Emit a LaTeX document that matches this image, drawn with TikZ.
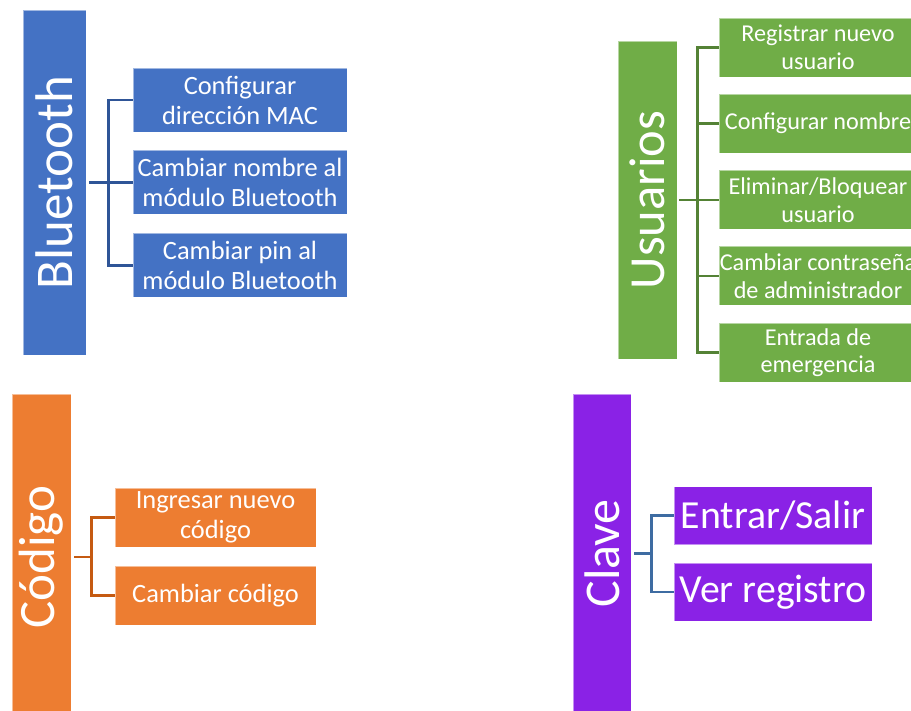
\documentclass[tikz,border=0pt]{standalone}
\usepackage{fontspec}
\setmainfont{Carlito}
\definecolor{cblue}{HTML}{4472C4}
\definecolor{lblue}{HTML}{2F5597}
\definecolor{cgreen}{HTML}{70AD47}
\definecolor{lgreen}{HTML}{548235}
\definecolor{corange}{HTML}{ED7D31}
\definecolor{lorange}{HTML}{C55A11}
\definecolor{cpurple}{HTML}{8A22E6}
\definecolor{lpurple}{HTML}{3E6CA2}
\begin{document}
\begin{tikzpicture}[x=1pt,y=-1pt,
  bx/.style={rectangle, inner sep=0pt, text=white, align=center, draw=white, draw opacity=0.5, line width=0.6pt},
  conn/.style={line width=2.5pt},
  bigfont/.style={font=\fontsize{#1}{#1}\selectfont}]
\useasboundingbox (0,0) rectangle (911,711);
\clip (0,0) rectangle (911,711);
% ---------- Bluetooth ----------
\node[bx, fill=cblue, minimum width=63, minimum height=345, bigfont=53] (bt) at (54.5,182.5) {\rotatebox{90}{Bluetooth}};
\begin{scope}[every node/.style={bx, fill=cblue, minimum width=214, minimum height=64, font=\fontsize{26.4}{30}\selectfont}]
\node (b1) at (240,100) {Configurar\\dirección MAC};
\node (b2) at (240,182.5) {Cambiar nombre al\\módulo Bluetooth};
\node (b3) at (240,265.5) {Cambiar pin al\\módulo Bluetooth};
\end{scope}
\draw[conn, lblue] ([xshift=3pt]bt.east) -- (b2.west);
\draw[conn, lblue] (b1.west) -- ++(-24,0) |- (b3.west);
% ---------- Usuarios ----------
\node[bx, fill=cgreen, minimum width=59, minimum height=318, bigfont=50.5] (us) at (647.5,200) {\rotatebox{90}{Usuarios}};
\begin{scope}[every node/.style={bx, fill=cgreen, minimum width=198, minimum height=59, font=\fontsize{24.2}{27.5}\selectfont}]
\node (u1) at (818,47.5) {Registrar nuevo\\usuario};
\node (u2) at (818,123.5) {Configurar nombre};
\node (u3) at (818,200) {Eliminar/Bloquear\\usuario};
\node (u4) at (818,276) {Cambiar contraseña\\de administrador};
\node (u5) at (818,352.5) {Entrada de\\emergencia};
\end{scope}
\draw[conn, lgreen] ([xshift=2pt]us.east) -- (u3.west);
\draw[conn, lgreen] (u1.west) -- ++(-21,0) |- (u5.west);
\draw[conn, lgreen] (u2.west) -- ++(-21,0);
\draw[conn, lgreen] (u4.west) -- ++(-21,0);
% ---------- Codigo ----------
\node[bx, fill=corange, minimum width=59, minimum height=326, bigfont=51] (cd) at (41.5,557) {\rotatebox{90}{Código}};
\begin{scope}[every node/.style={bx, fill=corange, minimum width=201, minimum height=59, font=\fontsize{26.4}{29.5}\selectfont}]
\node (c1) at (215.5,517.5) {Ingresar nuevo\\código};
\node (c2) at (215.5,595.5) {Cambiar código};
\end{scope}
\draw[conn, lorange] ([xshift=3pt]cd.east) -- ++(18,0);
\draw[conn, lorange] (c1.west) -- ++(-23,0) |- (c2.west);
% ---------- Clave ----------
\node[bx, fill=cpurple, minimum width=58, minimum height=319, bigfont=50] (cl) at (602,553.5) {\rotatebox{90}{Clave}};
\begin{scope}[every node/.style={bx, fill=cpurple, minimum width=198, minimum height=58, font=\fontsize{39.8}{42}\selectfont}]
\node (k1) at (773,515.5) {Entrar/Salir};
\node (k2) at (773,592) {Ver registro};
\end{scope}
\draw[conn, lpurple] ([xshift=3pt]cl.east) -- ++(18,0);
\draw[conn, lpurple] (k1.west) -- ++(-22,0) |- (k2.west);
\end{tikzpicture}
\end{document}
